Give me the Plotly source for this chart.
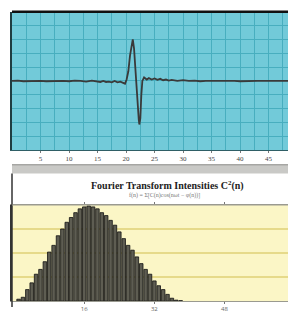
import plotly.graph_objects as go

# ---- data: time signal (top panel) ----
sig_t = [0, 1, 2, 3, 4, 5, 6, 7, 8, 9, 10, 11, 12, 13, 14, 15, 15.5, 16, 16.5, 17,
         17.5, 18, 18.5, 19, 19.4, 19.82, 20.1, 20.4, 20.7, 21.0, 21.18, 21.4, 21.58,
         21.75, 21.98, 22.23, 22.33, 22.51, 22.68, 22.86, 23.16, 23.63, 24.0, 24.5,
         25, 25.5, 26, 26.5, 27, 27.5, 28, 29, 30, 31, 32, 33, 34, 35, 36, 37, 38,
         39, 40, 41, 42, 43, 44, 45, 46, 47, 48, 48.5]
sig_v = [0.0, 0.005, -0.005, 0.0, 0.005, 0.0, -0.005, 0.0, 0.005, 0.0, -0.005, 0.005,
         0.0, -0.01, 0.005, -0.01, -0.015, 0.0, -0.015, -0.01,
         -0.02, 0.0, -0.02, -0.01, -0.02, -0.04, 0.02, 0.14, 0.37, 0.56, 0.6, 0.47, 0.22,
         0.0, -0.29, -0.56, -0.63, -0.54, -0.2, 0.0, 0.05, 0.02, 0.04, 0.02,
         0.035, 0.015, 0.03, 0.01, 0.02, 0.005, 0.015, 0.0, 0.01, 0.0, 0.005, -0.005,
         0.0, 0.005, 0.0, 0.0, 0.005, 0.0, -0.005, 0.0, 0.005, 0.0, 0.0, 0.005, 0.0,
         0.0, 0.0, 0.0]
top_ticks = [5, 10, 15, 20, 25, 30, 35, 40, 45]

# ---- data: Fourier intensities (bottom panel) ----
harm_n = list(range(1, 39))
harm_c2 = [0.02, 0.04, 0.12, 0.19, 0.28, 0.33, 0.41, 0.51, 0.58, 0.68, 0.75, 0.82,
           0.87, 0.92, 0.96, 0.98, 0.99, 0.98, 0.96, 0.92, 0.89, 0.84, 0.79, 0.72,
           0.65, 0.58, 0.53, 0.46, 0.39, 0.33, 0.28, 0.21, 0.16, 0.12, 0.07, 0.03,
           0.01, 0.005]
bottom_ticks = [16, 32, 48]

W, H = 288, 313
def py(px):
    return 1 - px / H

fig = go.Figure()
fig.add_trace(go.Scatter(x=sig_t, y=sig_v, mode="lines",
                         line=dict(color="#3a3a3a", width=1.8),
                         xaxis="x", yaxis="y", showlegend=False))
fig.add_trace(go.Bar(x=harm_n, y=harm_c2, xaxis="x2", yaxis="y2",
                     marker=dict(color="#5e5d52", line=dict(color="#111111", width=0.8)),
                     showlegend=False))

xd = [12 / W, 1.0]
fig.update_layout(
    width=W, height=H, margin=dict(l=0, r=0, t=0, b=0),
    paper_bgcolor="white", plot_bgcolor="rgba(0,0,0,0)",
    bargap=0.2,
    xaxis=dict(domain=xd, anchor="y", range=[0, 48.4], dtick=5, tick0=0,
               tickvals=top_ticks, showgrid=True, gridcolor="#48aebf", gridwidth=1,
               minor=dict(dtick=2.5, tick0=0, showgrid=True, gridcolor="#48aebf"),
               ticks="outside", ticklen=2, tickcolor="#777",
               tickfont=dict(size=7, color="#444", family="Liberation Serif"),
               showline=True, linecolor="#2f5f66", linewidth=1, zeroline=False),
    yaxis=dict(domain=[py(153), py(12)], anchor="x", range=[-1, 1], dtick=0.2,
               showgrid=True, gridcolor="#48aebf", gridwidth=1, showticklabels=False,
               zeroline=False, showline=True, linecolor="#1f3c40", linewidth=2),
    xaxis2=dict(domain=xd, anchor="y2", range=[-0.5, 62.5], tickvals=bottom_ticks,
                showgrid=False, ticks="outside", ticklen=2, tickcolor="#777",
                mirror="ticks", showline=True, linecolor="#9a9a90", linewidth=1,
                tickfont=dict(size=6, color="#666"), zeroline=False),
    yaxis2=dict(domain=[py(307), py(209)], anchor="x2", range=[0, 1.0], dtick=0.25,
                showgrid=True, gridcolor="#e6da8a", gridwidth=1.5, showticklabels=False,
                zeroline=False, showline=True, linecolor="#333", linewidth=1.5),
)

shapes = [
    dict(type="rect", xref="x domain", yref="y domain", x0=0, x1=1, y0=0, y1=1,
         fillcolor="#72cad9", line=dict(width=0), layer="below"),
    dict(type="rect", xref="x2 domain", yref="y2 domain", x0=0, x1=1, y0=0, y1=1,
         fillcolor="#fbf6c6", line=dict(width=0), layer="below"),
    dict(type="rect", xref="paper", yref="paper", x0=12 / W, x1=1, y0=py(177), y1=py(168),
         fillcolor="#c9c9c6", line=dict(width=0), layer="below"),
    dict(type="line", xref="paper", yref="paper", x0=12 / W, x1=1, y0=py(168), y1=py(168),
         line=dict(color="#8a8a88", width=1), layer="below"),
    dict(type="line", xref="paper", yref="paper", x0=12 / W, x1=1, y0=py(12), y1=py(12),
         line=dict(color="#111111", width=2.5)),
    dict(type="line", xref="paper", yref="paper", x0=12 / W, x1=12 / W, y0=0, y1=py(177),
         line=dict(color="#333333", width=1.5)),
    dict(type="line", xref="paper", yref="paper", x0=12 / W, x1=1, y0=py(209), y1=py(209),
         line=dict(color="#9a9a90", width=1)),
]
fig.update_layout(shapes=shapes)

fig.add_annotation(text="<b>Fourier Transform Intensities C<sup>2</sup>(n)</b>",
                   xref="paper", yref="paper", x=167 / W, y=py(189), showarrow=False,
                   font=dict(size=10, family="Liberation Serif", color="#222"),
                   xanchor="center", yanchor="middle")
fig.add_annotation(text="f(n) = \u03a3[C(n)cos(n\u03c9t \u2212 \u03c6(n))]",
                   xref="paper", yref="paper", x=164 / W, y=py(199), showarrow=False,
                   font=dict(size=6, family="Liberation Serif", color="#777"),
                   xanchor="center", yanchor="middle")

fig.write_html("out.html", config={"displayModeBar": False},
               post_script="document.body.style.margin='0';document.body.style.overflow='hidden';")
